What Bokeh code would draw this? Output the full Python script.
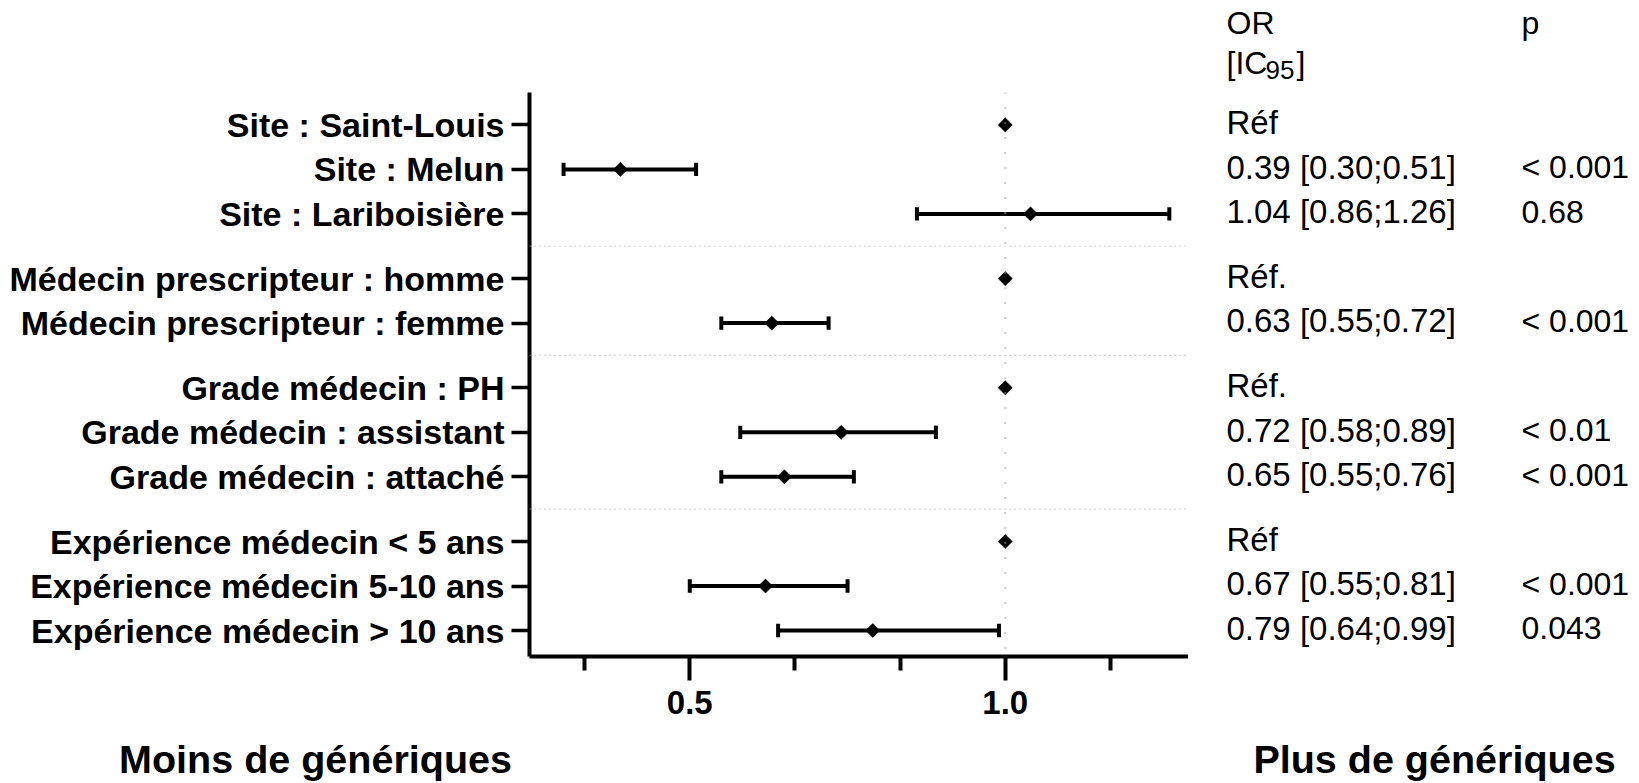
import math
from bokeh.plotting import figure
from bokeh.layouts import column, row
from bokeh.models import (Range1d, FixedTicker, PrintfTickFormatter, Span,
                          ColumnDataSource)
from bokeh.core.properties import value
from bokeh.embed import file_html
from bokeh.resources import INLINE

# ---------------- data ----------------
labels = ["Site : Saint-Louis", "Site : Melun", "Site : Lariboisière",
          "Médecin prescripteur : homme", "Médecin prescripteur : femme",
          "Grade médecin : PH", "Grade médecin : assistant", "Grade médecin : attaché",
          "Expérience médecin < 5 ans", "Expérience médecin 5-10 ans",
          "Expérience médecin > 10 ans"]
group_sizes = [3, 2, 3, 3]
# plotted odds ratios and CI (as drawn)
or_plot = [1.0, 0.39, 1.04, 1.0, 0.63, 1.0, 0.74, 0.65, 1.0, 0.62, 0.79]
ci_low = [None, 0.30, 0.86, None, 0.55, None, 0.58, 0.55, None, 0.50, 0.64]
ci_high = [None, 0.51, 1.26, None, 0.72, None, 0.89, 0.76, None, 0.75, 0.99]
# reported text
or_text = ["Réf", "0.39 [0.30;0.51]", "1.04 [0.86;1.26]", "Réf.", "0.63 [0.55;0.72]",
           "Réf.", "0.72 [0.58;0.89]", "0.65 [0.55;0.76]", "Réf", "0.67 [0.55;0.81]",
           "0.79 [0.64;0.99]"]
p_text = ["", "< 0.001", "0.68", "", "< 0.001", "", "< 0.01", "< 0.001", "", "< 0.001", "0.043"]
x_major = [0.5, 1.0]
x_minor = [1/3, 2/3, 5/6, 7/6]
captions = ["Moins de génériques", "Plus de génériques"]

# ---------------- layout constants (page px) ----------------
FONT = "Liberation Sans"
TOTAL_W, TOTAL_H = 1631, 783
FRAME_LEFT, FRAME_TOP = 529, 92
FRAME_W, FRAME_H = 659, 564
BOTTOM_BORDER = 76
PX_PER_X = 631.0
X0 = 0.246
X1 = X0 + FRAME_W / PX_PER_X
ROW_PX = 44.5
FIRST_ROW_PAGE = 124.4
GAP_EXTRA = 0.454                       # extra rows between groups

def py_to_y(py):
    return (py - FIRST_ROW_PAGE) / ROW_PX

Y_TOP = py_to_y(FRAME_TOP)
Y_BOT = py_to_y(FRAME_TOP + FRAME_H)

# row positions
ypos = []
seps = []
pos = 0.0
for gi, n in enumerate(group_sizes):
    for k in range(n):
        ypos.append(round(pos, 3))
        pos += 1
    if gi < len(group_sizes) - 1:
        seps.append(pos - 1 + (1 + GAP_EXTRA) / 2)
        pos += GAP_EXTRA

# ---------------- main forest plot ----------------
p = figure(frame_width=FRAME_W, frame_height=FRAME_H,
           min_border_left=FRAME_LEFT, min_border_top=FRAME_TOP,
           min_border_right=0, min_border_bottom=BOTTOM_BORDER,
           x_range=Range1d(X0, X1), y_range=Range1d(Y_BOT, Y_TOP),
           output_backend="svg", toolbar_location=None, tools="")
p.frame_align = False
p.outline_line_color = None
p.grid.visible = False

p.add_layout(Span(location=1.0, dimension="height", line_color="#a0a0a0",
                  line_width=2, line_dash="1 14"))
for s in seps:
    p.add_layout(Span(location=s, dimension="width", line_color="#b4b4b4",
                      line_width=1.2, line_dash="1 4"))

idx = [i for i in range(len(labels)) if ci_low[i] is not None]
eb = ColumnDataSource(dict(
    lo=[ci_low[i] for i in idx], hi=[ci_high[i] for i in idx],
    y=[ypos[i] for i in idx],
    y0=[ypos[i] - 0.15 for i in idx], y1=[ypos[i] + 0.15 for i in idx]))
for a, b, c_, d in (("lo", "hi", "y", "y"), ("lo", "lo", "y0", "y1"), ("hi", "hi", "y0", "y1")):
    p.segment(x0=a, x1=b, y0=c_, y1=d, source=eb, line_color="black",
              line_width=4, line_cap="butt")

pts = ColumnDataSource(dict(x=or_plot, y=ypos))
p.scatter(x="x", y="y", source=pts, marker="square", size=10, angle=math.pi / 4,
          fill_color="black", line_color="black", line_width=0.5)

xa = p.xaxis[0]
xa.ticker = FixedTicker(ticks=x_major, minor_ticks=x_minor)
xa.formatter = PrintfTickFormatter(format="%.1f")
xa.axis_line_width = 4
xa.axis_line_color = "black"
xa.major_tick_line_width = 4
xa.minor_tick_line_width = 4
xa.major_tick_in = 0
xa.major_tick_out = 24
xa.minor_tick_in = 0
xa.minor_tick_out = 14
xa.major_label_standoff = 10
xa.major_label_text_font = FONT
xa.major_label_text_font_style = "bold"
xa.major_label_text_font_size = "33px"
xa.major_label_text_color = "black"

ya = p.yaxis[0]
ya.ticker = FixedTicker(ticks=ypos, minor_ticks=[])
ya.major_label_overrides = {ypos[i]: labels[i] for i in range(len(labels))}
ya.axis_line_width = 4
ya.axis_line_color = "black"
ya.major_tick_line_width = 3.5
ya.major_tick_in = 0
ya.major_tick_out = 18
ya.minor_tick_out = 0
ya.minor_tick_in = 0
ya.major_label_standoff = 7
ya.major_label_text_font = FONT
ya.major_label_text_font_style = "bold"
ya.major_label_text_font_size = "34px"
ya.major_label_text_color = "black"

# ---------------- right-hand table (x in page px) ----------------
TX0 = FRAME_LEFT + FRAME_W
TW = TOTAL_W - TX0
TH = FRAME_TOP + FRAME_H
t = figure(frame_width=TW, frame_height=TH, min_border_left=0, min_border_right=0,
           min_border_top=0, min_border_bottom=BOTTOM_BORDER,
           x_range=Range1d(TX0, TOTAL_W), y_range=Range1d(py_to_y(TH), py_to_y(0)),
           x_axis_type=None, y_axis_type=None,
           output_backend="svg", toolbar_location=None, tools="")
t.frame_align = False
t.outline_line_color = None
t.grid.visible = False

OR_X, P_X = 1226, 1521
tsrc = ColumnDataSource(dict(xo=[OR_X] * len(labels), xp=[P_X] * len(labels),
                             y=[v - 0.05 for v in ypos], ort=or_text, pt=p_text))
t.text(x="xo", y="y", text="ort", source=tsrc, text_font=value(FONT),
       text_font_size="33px", text_color="black",
       text_align="left", text_baseline="middle")
t.text(x="xp", y="y", text="pt", source=tsrc, text_font=value(FONT),
       text_font_size="32px", text_color="black",
       text_align="left", text_baseline="middle")

hdr = ColumnDataSource(dict(
    x=[OR_X, P_X, OR_X, 1265, 1296],
    y=[py_to_y(22), py_to_y(22), py_to_y(62), py_to_y(69), py_to_y(62)],
    s=["OR", "p", "[IC", "95", "]"],
    fs=["32px", "32px", "32px", "26px", "32px"]))
t.text(x="x", y="y", text="s", source=hdr, text_font=value(FONT),
       text_font_size="fs", text_color="black", text_align="left",
       text_baseline="middle")

# ---------------- bottom captions (page px) ----------------
CY0 = FRAME_TOP + FRAME_H + BOTTOM_BORDER
c = figure(frame_width=TOTAL_W, frame_height=TOTAL_H - CY0, min_border=0,
           x_range=Range1d(0, TOTAL_W), y_range=Range1d(TOTAL_H, CY0),
           x_axis_type=None, y_axis_type=None,
           output_backend="svg", toolbar_location=None, tools="")
c.frame_align = False
c.outline_line_color = None
c.grid.visible = False
csrc = ColumnDataSource(dict(x=[315, 1434], y=[758, 758], s=captions))
c.text(x="x", y="y", text="s", source=csrc, text_font=value(FONT),
       text_font_style="bold", text_font_size="39.5px", text_color="black",
       text_align="center", text_baseline="middle")

layout = column(row(p, t, spacing=0), c, spacing=0)
open("out.html", "w").write(file_html(layout, INLINE))
